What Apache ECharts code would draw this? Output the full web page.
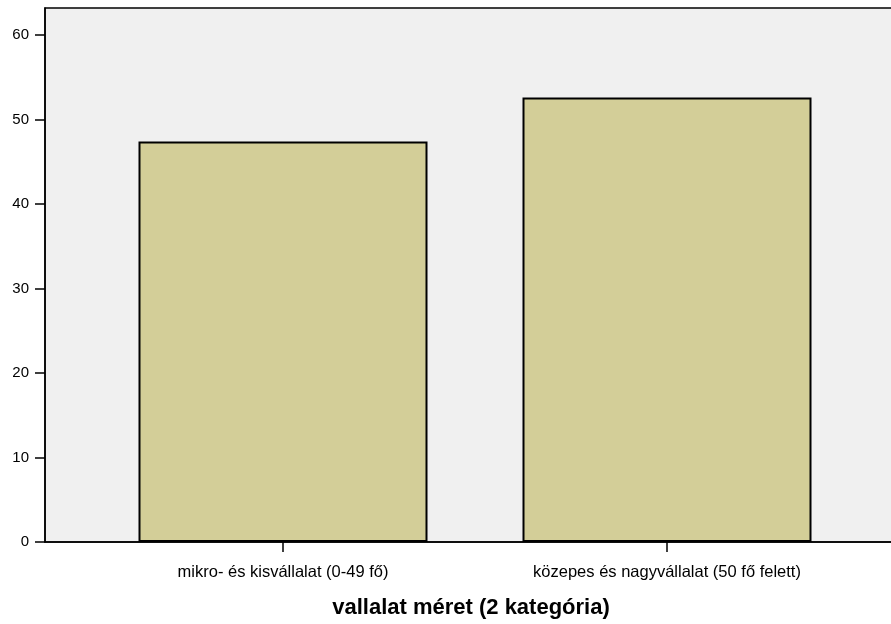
<!DOCTYPE html>
<html><head><meta charset="utf-8">
<script src="https://cdn.jsdelivr.net/npm/echarts@6/dist/echarts.min.js"></script>
<style>html,body{margin:0;padding:0;background:#fff}#c{width:891px;height:624px}</style>
</head><body><div id="c"></div>
<script>
const categories = ['mikro- és kisvállalat (0-49 fő)', 'közepes és nagyvállalat (50 fő felett)'];
const values = [47.4, 52.6];
const yTicks = [0, 10, 20, 30, 40, 50, 60];
const xTitle = 'vallalat méret (2 kategória)';

const FONT = 'Liberation Sans, Arial, Helvetica, sans-serif';
const chart = echarts.init(document.getElementById('c'), null, {renderer: 'canvas'});
const yMax = 63.2;
chart.setOption({
  animation: false,
  grid: [
    {left: 45, right: -6, top: 8, bottom: 82, show: true, backgroundColor: '#f0f0f0', borderColor: '#000', borderWidth: 1.5, outerBoundsMode: 'none', containLabel: false},
    {left: 91, right: 32, top: 8, bottom: 82, outerBoundsMode: 'none', containLabel: false}
  ],
  xAxis: [
    {gridIndex: 0, type: 'category', data: ['a'], axisLine: {lineStyle: {color: '#000', width: 1.5}}, axisTick: {show: false}, axisLabel: {show: false},
     name: xTitle, nameLocation: 'middle', nameGap: 55, nameTextStyle: {fontFamily: FONT, fontWeight: 'bold', fontSize: 22, color: '#000'}},
    {gridIndex: 1, type: 'category', data: categories, axisLine: {show: false},
     axisTick: {show: true, alignWithLabel: true, length: 10, lineStyle: {color: '#000', width: 1.5}},
     axisLabel: {margin: 22, fontFamily: FONT, fontSize: 16.5, color: '#000'}}
  ],
  yAxis: [
    {gridIndex: 0, type: 'value', min: 0, max: yMax, interval: 10, splitLine: {show: false},
     axisLine: {show: true, lineStyle: {color: '#000', width: 1.5}},
     axisTick: {show: true, length: 10, customValues: yTicks, lineStyle: {color: '#000', width: 1.5}},
     axisLabel: {margin: 16, fontFamily: FONT, fontSize: 15, color: '#000', customValues: yTicks}},
    {gridIndex: 1, type: 'value', min: 0, max: yMax, show: false, splitLine: {show: false}}
  ],
  series: [{
    type: 'bar', xAxisIndex: 1, yAxisIndex: 1, data: values, barWidth: 289,
    itemStyle: {color: '#d3ce98', borderColor: '#000', borderWidth: 2}
  }]
});
</script></body></html>
